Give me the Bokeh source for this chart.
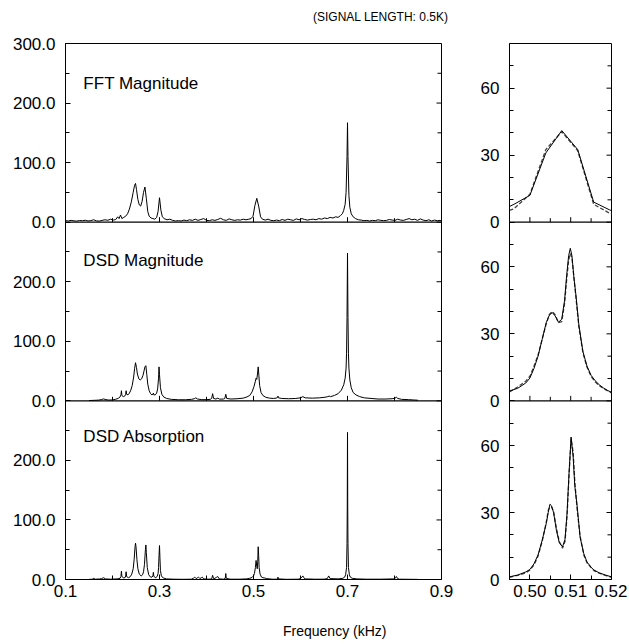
from bokeh.plotting import figure
from bokeh.models import Range1d, FixedTicker, Span, Label, Div, NumeralTickFormatter
from bokeh.layouts import row, column
from bokeh.embed import file_html
from bokeh.resources import INLINE

FONT = "Liberation Sans"

# ---------------- data ----------------
# Left column: full spectra, frequency in kHz
fft_freq = [0.100, 0.106, 0.112, 0.118, 0.124, 0.130, 0.136, 0.142, 0.148, 0.154, 0.160, 0.166, 0.172,
            0.178, 0.184, 0.190, 0.196, 0.202, 0.207, 0.211, 0.214, 0.217, 0.220, 0.224, 0.228, 0.232,
            0.236, 0.240, 0.244, 0.247, 0.249, 0.251, 0.254, 0.257, 0.260, 0.263, 0.266, 0.269, 0.272,
            0.275, 0.278, 0.282, 0.286, 0.290, 0.294, 0.297, 0.300, 0.303, 0.306, 0.310, 0.316, 0.322,
            0.328, 0.334, 0.340, 0.346, 0.352, 0.358, 0.364, 0.370, 0.376, 0.382, 0.388, 0.394, 0.400,
            0.406, 0.412, 0.418, 0.424, 0.430, 0.436, 0.442, 0.448, 0.454, 0.460, 0.466, 0.472, 0.478,
            0.484, 0.490, 0.495, 0.499, 0.503, 0.507, 0.511, 0.515, 0.519, 0.525, 0.531, 0.537, 0.543,
            0.549, 0.555, 0.561, 0.567, 0.573, 0.579, 0.585, 0.591, 0.597, 0.603, 0.609, 0.615, 0.621,
            0.627, 0.633, 0.639, 0.645, 0.651, 0.657, 0.663, 0.669, 0.675, 0.680, 0.685, 0.689, 0.692,
            0.695, 0.697, 0.699, 0.700, 0.701, 0.703, 0.705, 0.708, 0.712, 0.717, 0.723, 0.729, 0.735,
            0.741, 0.747, 0.753, 0.759, 0.765, 0.771, 0.777, 0.783, 0.789, 0.795, 0.801, 0.807, 0.813,
            0.819, 0.825, 0.831, 0.837, 0.843, 0.849, 0.855, 0.861, 0.867, 0.873, 0.879, 0.885, 0.891,
            0.897, 0.900]
fft_mag = [2.5, 2.0, 3.0, 2.2, 1.8, 2.8, 2.4, 3.2, 2.0, 2.6, 4.0, 2.2, 1.8,
           3.0, 4.0, 3.2, 5.0, 3.5, 4.5, 9.0, 6.0, 12.0, 6.0, 8.0, 10.0, 14.0,
           22.0, 34.0, 50.0, 62.0, 65.0, 55.0, 38.0, 29.0, 27.0, 35.0, 50.0, 59.0, 40.0,
           18.0, 10.0, 7.0, 6.0, 5.0, 8.0, 18.0, 41.0, 20.0, 9.0, 6.0, 4.0, 5.0,
           3.0, 2.0, 2.5, 2.0, 3.5, 2.5, 4.0, 3.0, 5.0, 3.0, 4.5, 6.0, 3.0,
           2.5, 4.0, 3.0, 4.5, 6.5, 4.0, 3.0, 5.5, 4.0, 3.0, 4.0, 3.5, 5.0,
           4.0, 5.0, 6.0, 10.0, 28.0, 40.0, 27.0, 9.0, 5.0, 3.5, 5.0, 3.0, 2.5,
           3.5, 2.5, 4.5, 3.0, 5.0, 4.0, 3.0, 5.5, 4.0, 6.0, 4.5, 3.5, 4.5,
           5.0, 4.0, 6.0, 5.0, 7.0, 6.0, 8.0, 7.0, 9.0, 8.0, 11.0, 14.0, 20.0,
           30.0, 50.0, 110.0, 167.0, 110.0, 45.0, 25.0, 14.0, 9.0, 6.0, 4.0, 3.5, 2.5,
           3.0, 2.0, 3.0, 2.5, 4.0, 3.0, 2.5, 3.0, 4.5, 3.5, 3.0, 5.0, 3.5,
           3.0, 4.5, 6.0, 4.0, 5.0, 3.0, 5.5, 3.5, 2.5, 4.0, 2.0, 3.5, 2.5,
           3.0, 2.0]

dsdm_freq = [0.150, 0.160, 0.170, 0.176, 0.181, 0.186, 0.192, 0.200, 0.206, 0.212, 0.216, 0.218, 0.219,
             0.220, 0.223, 0.226, 0.228, 0.229, 0.230, 0.233, 0.236, 0.239, 0.242, 0.245, 0.247, 0.249,
             0.251, 0.253, 0.256, 0.259, 0.262, 0.265, 0.267, 0.269, 0.271, 0.273, 0.275, 0.278, 0.281,
             0.284, 0.286, 0.287, 0.288, 0.291, 0.294, 0.296, 0.298, 0.299, 0.300, 0.302, 0.305, 0.309,
             0.315, 0.325, 0.340, 0.355, 0.368, 0.374, 0.377, 0.381, 0.390, 0.400, 0.408, 0.411, 0.413,
             0.415, 0.420, 0.424, 0.428, 0.436, 0.439, 0.441, 0.443, 0.452, 0.465, 0.478, 0.486, 0.492,
             0.497, 0.501, 0.504, 0.5055, 0.507, 0.5085, 0.510, 0.5115, 0.513, 0.516, 0.520, 0.526, 0.534,
             0.542, 0.548, 0.551, 0.552, 0.553, 0.560, 0.575, 0.590, 0.600, 0.605, 0.610, 0.625, 0.640,
             0.652, 0.658, 0.661, 0.664, 0.672, 0.680, 0.687, 0.692, 0.695, 0.697, 0.698, 0.699, 0.700,
             0.701, 0.702, 0.703, 0.705, 0.708, 0.712, 0.718, 0.726, 0.736, 0.750, 0.765, 0.780, 0.795,
             0.801, 0.804, 0.807, 0.815, 0.830, 0.840, 0.850]
dsdm_mag = [0.5, 0.8, 1.2, 2.0, 3.2, 2.0, 1.3, 1.5, 2.5, 4.0, 6.5, 10.0, 17.0,
            9.0, 7.0, 8.0, 11.0, 17.0, 11.0, 10.0, 13.0, 18.0, 26.0, 40.0, 54.0, 64.0,
            56.0, 45.0, 37.0, 35.0, 37.0, 43.0, 50.0, 57.0, 59.0, 44.0, 28.0, 17.0, 12.0,
            10.0, 11.0, 13.0, 10.0, 10.0, 13.0, 20.0, 38.0, 57.0, 44.0, 22.0, 11.0, 6.5,
            4.0, 2.5, 1.8, 1.8, 2.5, 3.5, 5.0, 3.0, 2.0, 2.0, 2.5, 4.0, 12.0,
            4.0, 3.0, 4.5, 2.8, 3.0, 4.0, 11.0, 4.0, 3.0, 3.5, 4.5, 6.5, 9.0,
            15.0, 24.0, 33.0, 38.0, 36.0, 45.0, 57.0, 42.0, 26.0, 14.0, 9.0, 6.0, 4.5,
            4.0, 4.5, 5.5, 8.0, 5.0, 4.0, 3.5, 4.0, 5.0, 7.0, 5.0, 4.5, 5.0,
            6.0, 7.0, 8.0, 7.0, 9.0, 12.0, 18.0, 27.0, 38.0, 55.0, 80.0, 140.0, 248.0,
            140.0, 80.0, 55.0, 35.0, 22.0, 14.0, 10.0, 7.0, 5.0, 4.0, 3.0, 3.0, 3.5,
            4.5, 6.0, 4.0, 2.5, 2.0, 1.5, 1.0]

dsda_freq = [0.150, 0.157, 0.160, 0.163, 0.172, 0.177, 0.181, 0.185, 0.195, 0.210, 0.216, 0.218, 0.219,
             0.220, 0.224, 0.227, 0.228, 0.229, 0.230, 0.234, 0.238, 0.241, 0.244, 0.246, 0.248, 0.249,
             0.250, 0.252, 0.254, 0.257, 0.261, 0.264, 0.266, 0.268, 0.270, 0.271, 0.272, 0.274, 0.277,
             0.281, 0.284, 0.286, 0.287, 0.288, 0.292, 0.295, 0.297, 0.298, 0.299, 0.300, 0.301, 0.302,
             0.304, 0.308, 0.315, 0.330, 0.350, 0.368, 0.372, 0.375, 0.378, 0.381, 0.383, 0.386, 0.389,
             0.391, 0.394, 0.405, 0.411, 0.413, 0.415, 0.418, 0.421, 0.424, 0.427, 0.436, 0.440, 0.441,
             0.442, 0.450, 0.470, 0.485, 0.492, 0.497, 0.500, 0.502, 0.504, 0.5055, 0.507, 0.508, 0.509,
             0.510, 0.511, 0.512, 0.514, 0.517, 0.520, 0.524, 0.528, 0.540, 0.550, 0.551, 0.552, 0.553,
             0.570, 0.595, 0.600, 0.603, 0.605, 0.607, 0.610, 0.630, 0.650, 0.657, 0.660, 0.663, 0.680,
             0.690, 0.694, 0.696, 0.698, 0.699, 0.6995, 0.700, 0.7005, 0.701, 0.702, 0.704, 0.706, 0.710,
             0.720, 0.740, 0.770, 0.800, 0.802, 0.804, 0.806, 0.810, 0.850]
dsda_abs = [0.2, 0.5, 2.0, 0.5, 0.8, 1.5, 3.0, 1.0, 0.5, 1.0, 2.0, 5.0, 14.0,
            5.0, 2.5, 3.5, 6.0, 13.0, 5.0, 3.0, 5.0, 9.0, 18.0, 33.0, 55.0, 61.0,
            55.0, 33.0, 18.0, 9.0, 6.0, 8.0, 13.0, 25.0, 50.0, 58.0, 45.0, 20.0, 8.0,
            4.0, 4.0, 6.0, 12.0, 5.0, 3.0, 5.0, 10.0, 20.0, 40.0, 57.0, 35.0, 15.0,
            6.0, 2.5, 1.0, 0.5, 0.3, 0.5, 2.0, 4.0, 1.5, 3.0, 4.0, 1.5, 3.0,
            4.0, 1.0, 0.5, 1.0, 7.0, 1.5, 2.0, 3.5, 5.0, 1.0, 0.5, 2.0, 10.0,
            2.0, 0.5, 0.5, 1.0, 2.0, 3.5, 6.0, 10.0, 20.0, 32.0, 22.0, 18.0, 30.0,
            55.0, 40.0, 20.0, 9.0, 4.0, 3.0, 2.5, 1.5, 0.5, 0.5, 1.0, 4.0, 1.0,
            0.3, 0.5, 1.5, 4.0, 6.0, 3.0, 1.0, 0.5, 0.5, 1.5, 6.0, 1.5, 1.0,
            2.0, 4.0, 8.0, 20.0, 60.0, 120.0, 247.0, 120.0, 60.0, 20.0, 8.0, 4.0, 2.0,
            1.0, 0.5, 0.5, 1.0, 3.0, 5.0, 2.0, 0.5, 0.2]

# Right column: zoom on 0.495-0.52 kHz, solid and dashed curves
fftz_freq = [0.49219, 0.49609, 0.50000, 0.50391, 0.50781, 0.51172, 0.51563, 0.51953, 0.52344]
fftz_solid = [4.5, 8.0, 12.0, 31.0, 41.0, 32.5, 9.0, 5.5, 3.0]
fftz_dashed = [3.5, 6.0, 12.5, 32.5, 40.5, 32.0, 8.0, 4.0, 2.5]

dsdmz_freq = [0.495, 0.497, 0.499, 0.500, 0.501, 0.502, 0.503, 0.504, 0.5048, 0.5055, 0.5062, 0.507,
              0.5078, 0.5085, 0.509, 0.5095, 0.5099, 0.5103, 0.5108, 0.5113, 0.512, 0.513, 0.514, 0.515,
              0.516, 0.517, 0.518, 0.519, 0.520]
dsdmz_solid = [4.4, 5.6, 8.0, 10.2, 14.5, 20.0, 27.5, 35.0, 38.5, 39.5, 38.0, 35.2,
               36.5, 45.0, 56.0, 65.0, 68.3, 65.0, 55.0, 47.0, 34.0, 22.0, 15.5, 11.4,
               9.0, 7.2, 5.8, 4.7, 3.8]
dsdmz_dashed = [4.0, 6.2, 8.8, 11.0, 15.5, 20.5, 27.5, 34.5, 38.8, 40.0, 38.5, 35.0,
                35.5, 43.5, 54.0, 63.0, 66.0, 64.0, 55.0, 46.0, 33.0, 21.5, 15.0, 11.0,
                8.5, 6.8, 5.5, 4.5, 3.6]

dsdaz_freq = [0.495, 0.497, 0.499, 0.500, 0.501, 0.502, 0.503, 0.504, 0.5045, 0.5049, 0.5053, 0.5058,
              0.5065, 0.5072, 0.508, 0.5086, 0.5091, 0.5096, 0.5101, 0.5106, 0.511, 0.5116, 0.5123,
              0.5132, 0.514, 0.515, 0.5157, 0.517, 0.5185, 0.520]
dsdaz_solid = [1.2, 2.0, 3.4, 4.5, 7.0, 11.0, 17.5, 25.0, 30.0, 33.7, 33.0, 30.0,
               22.0, 16.5, 14.6, 18.0, 29.5, 48.0, 63.8, 55.0, 42.0, 32.5, 19.0,
               11.6, 7.8, 5.5, 4.2, 3.0, 2.0, 1.2]
dsdaz_dashed = [1.0, 1.8, 3.0, 4.2, 6.5, 10.5, 17.0, 25.5, 31.0, 32.5, 32.5, 30.5,
                23.0, 17.0, 14.0, 17.0, 28.0, 47.0, 63.0, 57.0, 44.0, 31.0, 19.5,
                11.0, 7.5, 5.3, 4.0, 2.8, 1.8, 1.0]

# Ticks / labels
left_x_major = [0.1, 0.3, 0.5, 0.7, 0.9]
left_x_minor = [0.2, 0.4, 0.6, 0.8]
left_y_ticks = [0, 100, 200, 300, 400, 500, 600, 700, 800, 900]
left_y_labels = ["0.0", "100.0", "200.0", "0.0", "100.0", "200.0", "0.0", "100.0", "200.0", "300.0"]
left_y_minor = [50, 150, 250, 350, 450, 550, 650, 750, 850]
right_x_major = [0.50, 0.51, 0.52]
right_x_minor = [0.505, 0.515]
right_y_ticks = [0, 30, 60, 80, 110, 140, 160, 190, 220]
right_y_labels = ["0", "30", "60", "0", "30", "60", "0", "30", "60"]
right_y_minor = [10, 20, 40, 50, 70, 90, 100, 120, 130, 150, 170, 180, 200, 210, 230]
panel_names = ["FFT Magnitude", "DSD Magnitude", "DSD Absorption"]
title_text = "(SIGNAL LENGTH: 0.5K)"
xlabel_text = "Frequency (kHz)"

TICK_FS = "17px"


def style_fig(p):
    p.xgrid.visible = False
    p.ygrid.visible = False
    p.outline_line_color = "black"
    p.outline_line_width = 1
    p.background_fill_color = "white"
    p.border_fill_color = "white"


def style_axis(ax, ticker, overrides=None, formatter=None, standoff=10):
    ax.ticker = ticker
    ax.major_tick_in = 5
    ax.major_tick_out = 0
    ax.minor_tick_in = 4
    ax.minor_tick_out = 0
    ax.axis_line_color = "black"
    ax.major_tick_line_color = "black"
    ax.minor_tick_line_color = "black"
    ax.major_label_text_font = FONT
    ax.major_label_text_font_size = TICK_FS
    ax.major_label_text_color = "black"
    ax.major_label_standoff = standoff
    if overrides:
        ax.major_label_overrides = overrides
    if formatter is not None:
        ax.formatter = formatter


def inner_ticks(p, xs, y, length, angle, rn=None):
    kw = {} if rn is None else {"y_range_name": rn}
    p.ray(x=xs, y=y, length=length, length_units="screen", angle=angle,
          angle_units="deg", line_color="black", line_width=1, **kw)


# ---------------- left column ----------------
left = figure(frame_width=376, frame_height=536, min_border_left=65, min_border_right=29,
              min_border_top=18, min_border_bottom=27,
              x_range=Range1d(0.1, 0.9), y_range=Range1d(0, 900),
              output_backend="svg", toolbar_location=None, tools="")
left.extra_y_ranges = {"top": Range1d(-600, 300), "mid": Range1d(-300, 600)}
style_fig(left)

style_axis(left.xaxis[0], FixedTicker(ticks=left_x_major, minor_ticks=left_x_minor),
           formatter=NumeralTickFormatter(format="0.0"), standoff=5)
style_axis(left.yaxis[0], FixedTicker(ticks=left_y_ticks, minor_ticks=left_y_minor),
           overrides=dict(zip(left_y_ticks, left_y_labels)), standoff=10)

for loc in [300, 600]:
    left.add_layout(Span(location=loc, dimension="width", line_color="black", line_width=1.2))

inner_major = [t for t in left_x_major if 0.1 < t < 0.9]
for rn in ["top", "mid"]:
    inner_ticks(left, inner_major, [0] * len(inner_major), 5, 90, rn)
    inner_ticks(left, left_x_minor, [0] * len(left_x_minor), 4, 90, rn)
# ticks on the right edge of the left frames
inner_ticks(left, [0.9] * len(left_y_ticks), left_y_ticks, 5, 180)
inner_ticks(left, [0.9] * len(left_y_minor), left_y_minor, 4, 180)

left.line(fft_freq, fft_mag, line_color="black", line_width=1, y_range_name="top")
left.line(dsdm_freq, dsdm_mag, line_color="black", line_width=1, y_range_name="mid")
left.line(dsda_freq, dsda_abs, line_color="black", line_width=1)

for name, rn, yy in zip(panel_names, ["top", "mid", "default"], [232, 236, 240]):
    left.add_layout(Label(x=0.138, y=yy, text=name, y_range_name=rn, text_baseline="middle",
                          text_font=FONT, text_font_size="17px", text_color="black"))

# ---------------- right column ----------------
right = figure(frame_width=102, frame_height=536, min_border_left=39, min_border_right=16,
               min_border_top=18, min_border_bottom=27,
               x_range=Range1d(0.495, 0.52), y_range=Range1d(0, 240),
               output_backend="svg", toolbar_location=None, tools="")
right.extra_y_ranges = {"top": Range1d(-160, 80), "mid": Range1d(-80, 160)}
style_fig(right)

style_axis(right.xaxis[0], FixedTicker(ticks=right_x_major, minor_ticks=right_x_minor),
           formatter=NumeralTickFormatter(format="0.00"), standoff=5)
style_axis(right.yaxis[0], FixedTicker(ticks=right_y_ticks, minor_ticks=right_y_minor),
           overrides=dict(zip(right_y_ticks, right_y_labels)), standoff=10)

for loc in [80, 160]:
    right.add_layout(Span(location=loc, dimension="width", line_color="black", line_width=1.2))

r_inner_major = [t for t in right_x_major if 0.495 < t < 0.52]
for rn in ["top", "mid"]:
    inner_ticks(right, r_inner_major, [0] * len(r_inner_major), 5, 90, rn)
    inner_ticks(right, right_x_minor, [0] * len(right_x_minor), 4, 90, rn)
inner_ticks(right, [0.52] * len(right_y_ticks), right_y_ticks, 5, 180)
inner_ticks(right, [0.52] * len(right_y_minor), right_y_minor, 4, 180)

right.line(fftz_freq, fftz_dashed, line_color="#444444", line_width=1.3, line_dash="4 2", y_range_name="top")
right.line(fftz_freq, fftz_solid, line_color="black", line_width=1, y_range_name="top")
right.line(dsdmz_freq, dsdmz_dashed, line_color="#444444", line_width=1.3, line_dash="4 2", y_range_name="mid")
right.line(dsdmz_freq, dsdmz_solid, line_color="black", line_width=1, y_range_name="mid")
right.line(dsdaz_freq, dsdaz_dashed, line_color="#444444", line_width=1.3, line_dash="4 2")
right.line(dsdaz_freq, dsdaz_solid, line_color="black", line_width=1)

# ---------------- texts above / below ----------------
title_div = Div(
    text=('<div style="margin-left:313px;padding-top:10px;font-family:\'Liberation Sans\';'
          'font-size:12px;line-height:14px;white-space:nowrap;color:black;">' + title_text + '</div>'),
    width=627, height=25, margin=(0, 0, 0, 0))
xlabel_div = Div(
    text=('<div style="margin-left:283px;padding-top:17px;font-family:\'Liberation Sans\';'
          'font-size:14px;line-height:16px;white-space:nowrap;color:black;">' + xlabel_text + '</div>'),
    width=627, height=36, margin=(0, 0, 0, 0))

layout = column(title_div, row(left, right, spacing=0), xlabel_div, spacing=0)

with open("out.html", "w") as f:
    f.write(file_html(layout, INLINE))
